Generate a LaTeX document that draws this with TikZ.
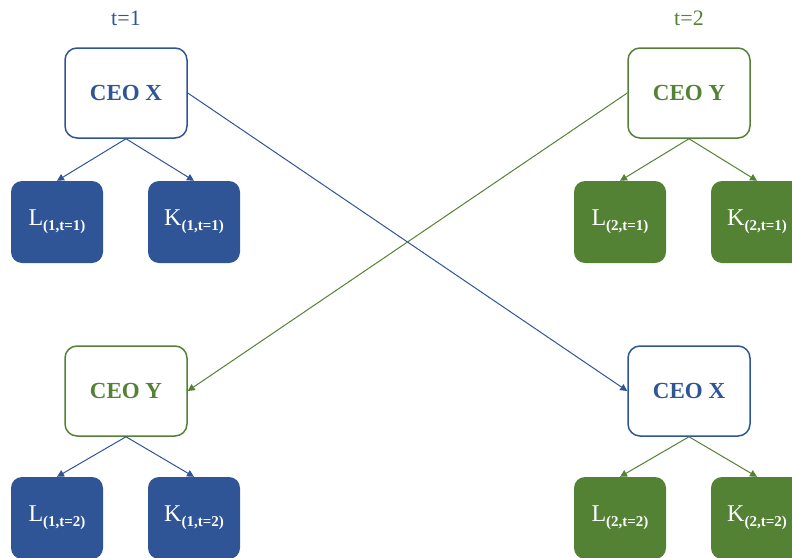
\documentclass[tikz,border=0pt]{standalone}
\usepackage{fontspec}
\setmainfont{Liberation Serif}
\usetikzlibrary{arrows.meta}
\definecolor{cblue}{HTML}{2F5597}
\definecolor{cgreen}{HTML}{548235}
\newcommand{\labsub}[2]{{\fontsize{24}{26}\selectfont #1\raisebox{-5pt}{\fontsize{15}{16}\selectfont\bfseries #2}}}
\begin{document}
\begin{tikzpicture}[x=1pt,y=-1pt,
  ceobox/.style={draw=#1, line width=1.5pt, fill=white, rounded corners=12pt,
    minimum width=122pt, minimum height=90pt, text=#1, inner sep=0pt,
    font=\fontsize{23}{26}\selectfont\bfseries},
  fbox/.style={fill=#1, draw=none, rounded corners=11pt,
    minimum width=92pt, minimum height=82pt, text=white, inner sep=0pt},
  tlabel/.style={text=#1, font=\fontsize{22}{24}\selectfont},
  arr/.style={draw=#1, line width=1pt, -{Triangle[length=7pt,width=7pt]}}
]
\useasboundingbox (0,0) rectangle (792,557);
\clip (0,0) rectangle (792,557);
% labels
\node[tlabel=cblue] (t1) at (126,18) {t=1};
\node[tlabel=cgreen] (t2) at (689,18) {t=2};
% top-left
\node[ceobox=cblue] (cx1) at (126,93) {CEO X};
\node[fbox=cblue] (l11) at (57,222) {\labsub{L}{(1,t=1)}};
\node[fbox=cblue] (k11) at (194,222) {\labsub{K}{(1,t=1)}};
% top-right
\node[ceobox=cgreen] (cy1) at (689,93) {CEO Y};
\node[fbox=cgreen] (l21) at (620,222) {\labsub{L}{(2,t=1)}};
\node[fbox=cgreen] (k21) at (757,222) {\labsub{K}{(2,t=1)}};
% bottom-left
\node[ceobox=cgreen] (cy2) at (126,391) {CEO Y};
\node[fbox=cblue] (l12) at (57,518) {\labsub{L}{(1,t=2)}};
\node[fbox=cblue] (k12) at (194,518) {\labsub{K}{(1,t=2)}};
% bottom-right
\node[ceobox=cblue] (cx2) at (689,391) {CEO X};
\node[fbox=cgreen] (l22) at (620,518) {\labsub{L}{(2,t=2)}};
\node[fbox=cgreen] (k22) at (757,518) {\labsub{K}{(2,t=2)}};
% tree arrows
\draw[arr=cblue] (cx1.south) -- (l11.north);
\draw[arr=cblue] (cx1.south) -- (k11.north);
\draw[arr=cgreen] (cy1.south) -- (l21.north);
\draw[arr=cgreen] (cy1.south) -- (k21.north);
\draw[arr=cblue] (cy2.south) -- (l12.north);
\draw[arr=cblue] (cy2.south) -- (k12.north);
\draw[arr=cgreen] (cx2.south) -- (l22.north);
\draw[arr=cgreen] (cx2.south) -- (k22.north);
% cross arrows
\draw[arr=cblue] (cx1.east) -- (cx2.west);
\draw[arr=cgreen] (cy1.west) -- (cy2.east);
\end{tikzpicture}
\end{document}
